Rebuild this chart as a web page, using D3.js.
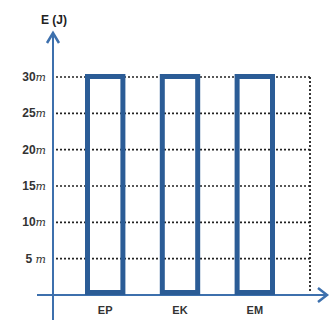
<!DOCTYPE html>
<html><head><meta charset="utf-8">
<script src="https://d3js.org/d3.v7.min.js"></script>
<style>body{margin:0;background:#fff}</style>
</head><body>
<svg id="c" width="332" height="320"></svg>
<script>
const categories = ["EP", "EK", "EM"];
const values = [30, 30, 30];
const tickValues = [5, 10, 15, 20, 25, 30];
const tickUnit = "m";
const axisTitle = "E (J)";

const svg = d3.select("#c");
const y = d3.scaleLinear().domain([0, 30]).range([295, 77]);
const x = d3.scaleBand().domain(categories).range([85, 275]).paddingInner(0.46).paddingOuter(0);

const axisCol = "#3d70ad", barCol = "#2b5c96", font = "'Liberation Sans', Arial, sans-serif";

// dotted gridlines
svg.append("g").selectAll("line").data(tickValues).join("line")
  .attr("x1", 56).attr("x2", 310).attr("y1", d => y(d)).attr("y2", d => y(d))
  .attr("stroke", "#222").attr("stroke-width", 1.6).attr("stroke-dasharray", "2,2");
svg.append("line").attr("x1", 310).attr("x2", 310).attr("y1", y(30)).attr("y2", y(0) - 4)
  .attr("stroke", "#222").attr("stroke-width", 1.8).attr("stroke-dasharray", "2,2");

// axes
svg.append("line").attr("x1", 37).attr("x2", 326).attr("y1", y(0)).attr("y2", y(0))
  .attr("stroke", axisCol).attr("stroke-width", 2);
svg.append("path").attr("d", `M318,${y(0)-7} L327,${y(0)} L318,${y(0)+7}`)
  .attr("fill", "none").attr("stroke", axisCol).attr("stroke-width", 2.5);
svg.append("line").attr("x1", 53).attr("x2", 53).attr("y1", 320).attr("y2", 34)
  .attr("stroke", axisCol).attr("stroke-width", 2);
svg.append("path").attr("d", `M47,43 L53,33 L59,43`)
  .attr("fill", "none").attr("stroke", axisCol).attr("stroke-width", 2.5);

// bars
svg.append("g").selectAll("rect").data(values).join("rect")
  .attr("x", (d, i) => x(categories[i]) + 2.5)
  .attr("width", x.bandwidth() - 5)
  .attr("y", d => y(d) - 0.5)
  .attr("height", d => y(0) - y(d) - 2)
  .attr("fill", "none").attr("stroke", barCol).attr("stroke-width", 5);

// tick labels
const tl = svg.append("g").selectAll("text").data(tickValues).join("text")
  .attr("x", 46).attr("y", d => y(d) + 4).attr("text-anchor", "end")
  .attr("font-family", font).attr("font-size", 12).attr("font-weight", "bold").attr("fill", "#333");
tl.append("tspan").text(d => d + (d < 10 ? " " : ""));
tl.append("tspan").attr("font-style", "italic").attr("font-family", "'DejaVu Serif', serif").attr("font-weight", "normal").attr("font-size", 11).text(tickUnit);

// category labels
svg.append("g").selectAll("text").data(categories).join("text")
  .attr("x", d => x(d) + x.bandwidth() / 2).attr("y", 314).attr("text-anchor", "middle")
  .attr("font-family", font).attr("font-size", 11).attr("font-weight", "bold").attr("fill", "#333")
  .text(d => d);

svg.append("text").attr("x", 54).attr("y", 24).attr("text-anchor", "middle")
  .attr("font-family", font).attr("font-size", 12).attr("font-weight", "bold").attr("fill", "#222")
  .text(axisTitle);
</script>
</body></html>
